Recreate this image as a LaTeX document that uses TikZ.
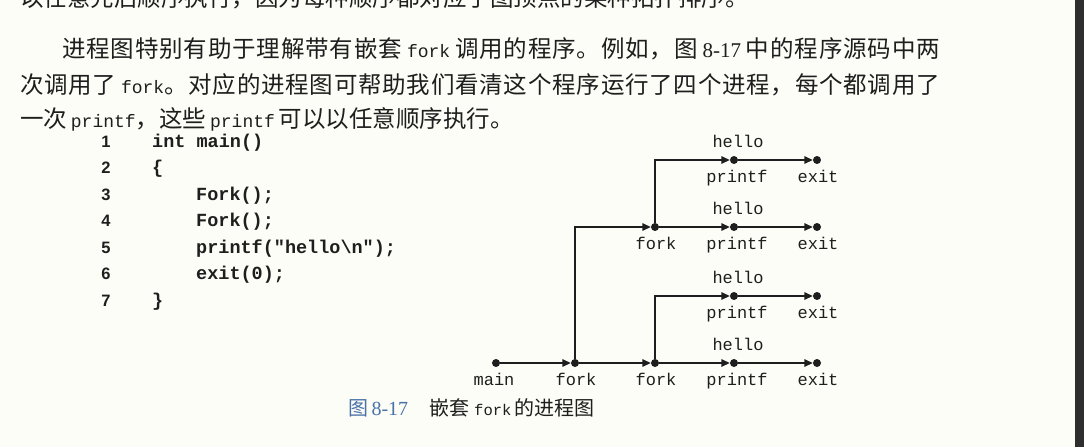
\documentclass[tikz,border=0pt]{standalone}
\usepackage{fontspec}
\setmainfont{Liberation Serif}
\setmonofont{Liberation Mono}
\setsansfont{Liberation Sans}
\newfontfamily\cjk{Noto Sans CJK SC}
\usetikzlibrary{arrows.meta}
\definecolor{bg}{HTML}{FCFDF6}
\definecolor{ink}{HTML}{1E1E1E}
\definecolor{capblue}{HTML}{4A72A8}
\definecolor{strip}{HTML}{2E2E2E}
\newcommand\bmono[2][18]{{\fontsize{#1}{#1}\selectfont\ttfamily #2}}
\newcommand\bnum[2][21]{{\fontsize{#1}{#1}\selectfont\rmfamily #2}}
% stretchable glue between CJK characters, used for justified lines
\XeTeXinterchartokenstate=1
\newXeTeXintercharclass\cjkcls
\newcount\cjkcnt
\cjkcnt="3000
\loop
  \XeTeXcharclass\cjkcnt=\cjkcls
  \ifnum\cjkcnt<"9FFF \advance\cjkcnt by 1
\repeat
\cjkcnt="FF00
\loop
  \XeTeXcharclass\cjkcnt=\cjkcls
  \ifnum\cjkcnt<"FFEF \advance\cjkcnt by 1
\repeat
\XeTeXinterchartoks\cjkcls\cjkcls={\hskip 0pt plus 3pt\relax}
\newcommand\gap{\hskip 4pt plus 3pt\relax}
\begin{document}
\begin{tikzpicture}[x=1pt,y=-1pt,
  body/.style={anchor=base west, inner sep=0pt, outer sep=0pt, text=ink, font=\fontsize{23.5}{24}\selectfont\cjk},
  codeline/.style={anchor=base west, inner sep=0pt, text=ink, font=\fontsize{18.5}{20}\selectfont\ttfamily\bfseries},
  lineno/.style={anchor=base, inner sep=0pt, text=ink, font=\fontsize{16.5}{17}\selectfont\sffamily\bfseries},
  pdot/.style={circle, fill=ink, inner sep=0pt, minimum size=8pt},
  lbl/.style={anchor=base, inner sep=0pt, text=ink, font=\fontsize{17}{18}\selectfont\ttfamily},
  flow/.style={draw=ink, line width=1.4pt, -{Triangle[length=8.5pt,width=7.5pt]}},
  captxt/.style={anchor=base west, inner sep=0pt, font=\fontsize{20}{20}\selectfont\cjk},
]
\path[use as bounding box] (0,0) rectangle (1084,447);
\fill[bg] (0,0) rectangle (1084,447);
\fill[strip] (1075,0) rectangle (1084,447);

% body text
\begin{scope}
\clip (0,0) rectangle (1084,447);
\node[body] (t0) at (20,6.5) {以任意先后顺序执行，因为每种顺序都对应于图顶点的某种拓扑排序。};
\end{scope}
\node[body] (t1) at (62,57) {\hbox to 878pt{进程图特别有助于理解带有嵌套\gap\bmono{fork}\gap 调用的程序。例如，图\gap\bnum{8-17}\gap 中的程序源码中两}};
\node[body] (t2) at (20,93) {\hbox to 920pt{次调用了\gap\bmono{fork}。对应的进程图可帮助我们看清这个程序运行了四个进程，每个都调用了}};
\node[body] (t3) at (20,127) {一次\,\bmono{printf}，这些\,\bmono{printf}\,可以以任意顺序执行。};

% code
\node[lineno] (n1) at (106,147) {1};
\node[lineno] (n2) at (106,173.5) {2};
\node[lineno] (n3) at (106,200) {3};
\node[lineno] (n4) at (106,226.5) {4};
\node[lineno] (n5) at (106,253) {5};
\node[lineno] (n6) at (106,279.5) {6};
\node[lineno] (n7) at (106,306) {7};
\node[codeline] (c1) at (152,147) {int main()};
\node[codeline] (c2) at (152,173.5) {\{};
\node[codeline] (c3) at (196,200) {Fork();};
\node[codeline] (c4) at (196,226.5) {Fork();};
\node[codeline] (c5) at (196,253) {printf("hello\textbackslash n");};
\node[codeline] (c6) at (196,279.5) {exit(0);};
\node[codeline] (c7) at (152,306) {\}};

% process graph
\node[pdot] (main) at (496,363) {};
\node[pdot] (f1) at (575,363) {};
\node[pdot] (f2) at (655,363) {};
\node[pdot] (pD) at (734,363) {};
\node[pdot] (eD) at (817,363) {};
\node[pdot] (pC) at (734,296) {};
\node[pdot] (eC) at (817,296) {};
\node[pdot] (fB) at (655,227) {};
\node[pdot] (pB) at (734,227) {};
\node[pdot] (eB) at (817,227) {};
\node[pdot] (pA) at (734,160) {};
\node[pdot] (eA) at (817,160) {};

\draw[flow] (main) -- (f1);
\draw[flow] (f1) -- (f2);
\draw[flow] (f2) -- (pD);
\draw[flow] (pD) -- (eD);
\draw[flow] (f2) |- (pC);
\draw[flow] (pC) -- (eC);
\draw[flow] (f1) |- (fB);
\draw[flow] (fB) -- (pB);
\draw[flow] (pB) -- (eB);
\draw[flow] (fB) |- (pA);
\draw[flow] (pA) -- (eA);

\node[lbl] (lmain) at (494,385) {main};
\node[lbl] (lf1) at (576,385) {fork};
\node[lbl] (lf2) at (656,385) {fork};
\node[lbl] (lpD) at (737,385) {printf};
\node[lbl] (leD) at (818,385) {exit};
\node[lbl] (hD) at (738,350) {hello};
\node[lbl] (lpC) at (737,318) {printf};
\node[lbl] (leC) at (818,318) {exit};
\node[lbl] (hC) at (738,283) {hello};
\node[lbl] (lfB) at (656,249) {fork};
\node[lbl] (lpB) at (737,249) {printf};
\node[lbl] (leB) at (818,249) {exit};
\node[lbl] (hB) at (738,214) {hello};
\node[lbl] (lpA) at (737,182) {printf};
\node[lbl] (leA) at (818,182) {exit};
\node[lbl] (hA) at (738,147) {hello};

% caption
\node[captxt, text=capblue] (cap1) at (348,415) {图\,\bnum[20]{8-17}};
\node[captxt, text=ink] (cap2) at (429,415) {嵌套\hskip 5pt\bmono[15.5]{fork}\hskip 3pt 的进程图};
\end{tikzpicture}
\end{document}
